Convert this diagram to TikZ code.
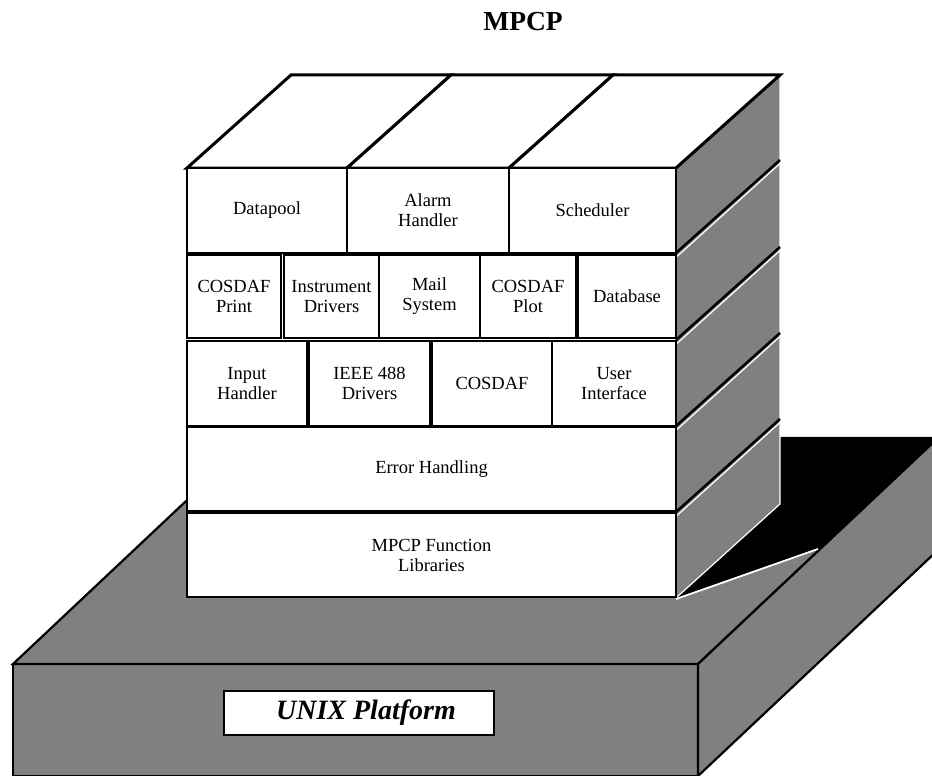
\documentclass[tikz,border=0pt]{standalone}
\usepackage{fontspec}
\setmainfont{Liberation Serif}
\begin{document}
\begin{tikzpicture}[x=1pt,y=-1pt,
  cellbox/.style={draw=black,line width=2pt,fill=white,inner sep=0pt,
    align=center,font=\fontsize{18.5}{20}\selectfont},
  topface/.style={draw=black,line width=3pt,fill=white,line join=miter},
  sideface/.style={fill=black!50},
  seam/.style={draw=black,line width=2.5pt},
  glint/.style={draw=white,line width=1.2pt},
  slab/.style={draw=black,line width=2.2pt,fill=black!50,line join=miter}]
\useasboundingbox (0,0) rectangle (932,776);
\begin{scope}
\clip (0,0) rectangle (932,776);
% --- platform slab ---
\draw[slab] (13,664) rectangle (698,776);
\draw[slab] (13,664) -- (253,438) -- (938,438) -- (698,664) -- cycle;
\draw[slab] (698,664) -- (938,438) -- (938,550) -- (698,776) -- cycle;
% shadow cast by the tower
\fill[black] (780,438) -- (938,438) -- (818,550) -- (676,598) -- (780,504) -- cycle;
\draw[white,line width=1.8pt] (676,599) -- (818,549);
\end{scope}
% --- tower: right side ---
\fill[sideface] (676,168) -- (780,75) -- (780,504) -- (676,597) -- cycle;
\draw[glint] (780,78) -- (780,504) -- (677,597);
\foreach \yy in {253,340,426,512}{
  \draw[glint] (677,\yy+3.5) -- (780,\yy-89.5);
  \draw[seam] (676,\yy) -- (780,\yy-93);
}
% --- tower: top ---
\draw[topface] (187,168) -- (291,75) -- (451,75) -- (347,168) -- cycle;
\draw[topface] (347,168) -- (451,75) -- (613,75) -- (509,168) -- cycle;
\draw[topface] (509,168) -- (613,75) -- (780,75) -- (676,168) -- cycle;
% --- tower: front cells ---
\newcommand\cellat[6]{%
  \node[cellbox,minimum width={(#3)-(#2)},minimum height={(#5)-(#4)}]
    (#1) at ({((#2)+(#3))/2},{((#4)+(#5))/2}) {#6};}
\cellat{datapool}{187}{347}{168}{253}{Datapool}
\cellat{alarm}{347}{509}{168}{253}{Alarm\\Handler}
\cellat{sched}{509}{676}{168}{253}{Scheduler}
\cellat{cprint}{187}{281}{255}{338}{COSDAF\\Print}
\cellat{instr}{284}{379}{255}{338}{Instrument\\Drivers}
\cellat{mail}{379}{480}{255}{338}{Mail\\System}
\cellat{cplot}{480}{576}{255}{338}{COSDAF\\Plot}
\cellat{dbase}{578}{676}{255}{338}{Database}
\cellat{input}{187}{307}{341}{426}{Input\\Handler}
\cellat{ieee}{309}{430}{341}{426}{IEEE 488\\Drivers}
\cellat{cosdaf}{432}{552}{341}{426}{COSDAF}
\cellat{ui}{552}{676}{341}{426}{User\\Interface}
\cellat{err}{187}{676}{427}{511}{Error Handling}
\cellat{libs}{187}{676}{513}{597}{MPCP Function\\Libraries}
% --- labels ---
\node[font=\fontsize{27.5}{30}\selectfont\bfseries,inner sep=0pt] (title) at (523,22) {MPCP};
\node[draw=black,line width=2pt,fill=white,minimum width=270,minimum height=44,inner sep=0pt,
  font=\fontsize{28}{30}\selectfont\bfseries\itshape] (unix) at (359,713) {\hspace*{14pt}UNIX Platform};
\end{tikzpicture}
\end{document}
